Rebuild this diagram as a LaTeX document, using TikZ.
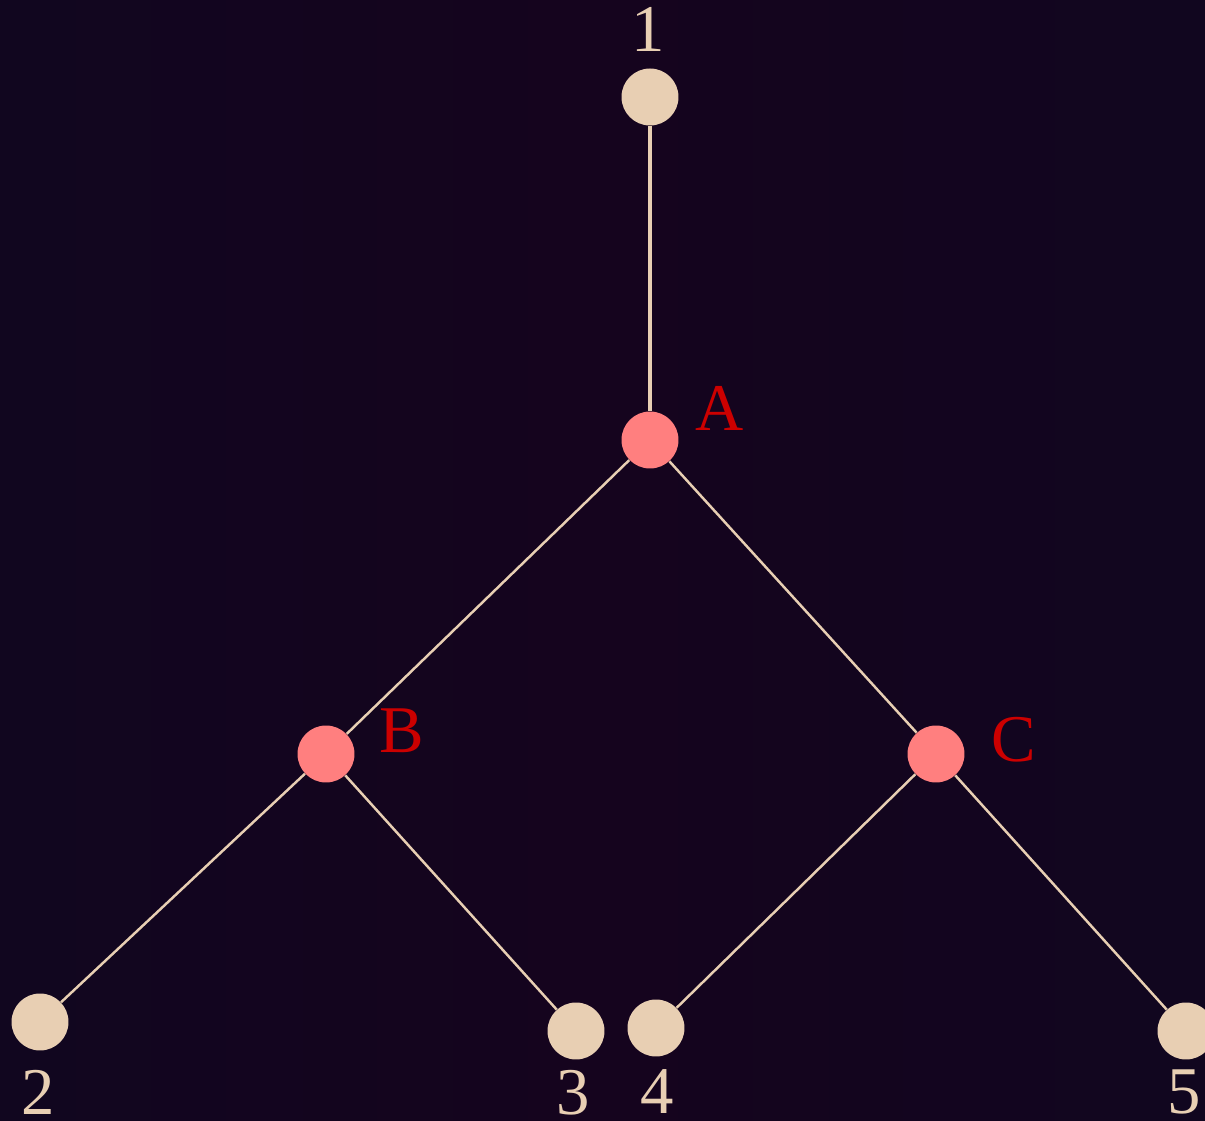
\documentclass[tikz,border=0pt]{standalone}
\usepackage{fontspec}
\setmainfont{Liberation Serif}
\usetikzlibrary{positioning}
\definecolor{bgdark}{HTML}{11061F}
\definecolor{bgmid}{HTML}{15041E}
\definecolor{sand}{HTML}{E8CFB3}
\definecolor{salmon}{HTML}{FF7F7F}
\definecolor{deepred}{HTML}{CC0000}

\begin{document}
\begin{tikzpicture}[x=0.02cm,y=-0.02cm,
  leaf/.style={circle,fill=sand,inner sep=0pt,minimum size=1.14cm},
  junction/.style={circle,fill=salmon,inner sep=0pt,minimum size=1.14cm},
  leaflabel/.style={text=sand,font=\fontsize{38}{40}\selectfont,inner sep=0pt},
  junclabel/.style={text=deepred,font=\fontsize{38}{40}\selectfont,inner sep=0pt},
  edge/.style={draw=sand,line width=1.4pt}]
\fill[left color=bgdark,right color=bgdark,middle color=bgmid] (0,0) rectangle (1205,1121);
\useasboundingbox (0,0) rectangle (1205,1121);
\node[leaf] (n1) at (650,97) {};
\node[junction] (nA) at (650,440) {};
\node[junction] (nB) at (326,754) {};
\node[junction] (nC) at (936,754) {};
\node[leaf] (n2) at (40,1022) {};
\node[leaf] (n3) at (576,1031) {};
\node[leaf] (n4) at (656,1028) {};
\node[leaf] (n5) at (1186,1031) {};
\node[leaflabel] (l1) at (648,29) {1};
\node[junclabel] (lA) at (720,408) {A};
\node[junclabel] (lB) at (402,731) {B};
\node[junclabel] (lC) at (1014,740) {C};
\node[leaflabel] (l2) at (38,1092) {2};
\node[leaflabel] (l3) at (573,1093) {3};
\node[leaflabel] (l4) at (657,1092) {4};
\node[leaflabel] (l5) at (1184,1092) {5};
\draw[edge,line width=2.3pt] (n1) -- (nA);
\draw[edge] (nA) -- (nB);
\draw[edge] (nA) -- (nC);
\draw[edge] (nB) -- (n2);
\draw[edge] (nB) -- (n3);
\draw[edge] (nC) -- (n4);
\draw[edge] (nC) -- (n5);
\end{tikzpicture}
\end{document}
